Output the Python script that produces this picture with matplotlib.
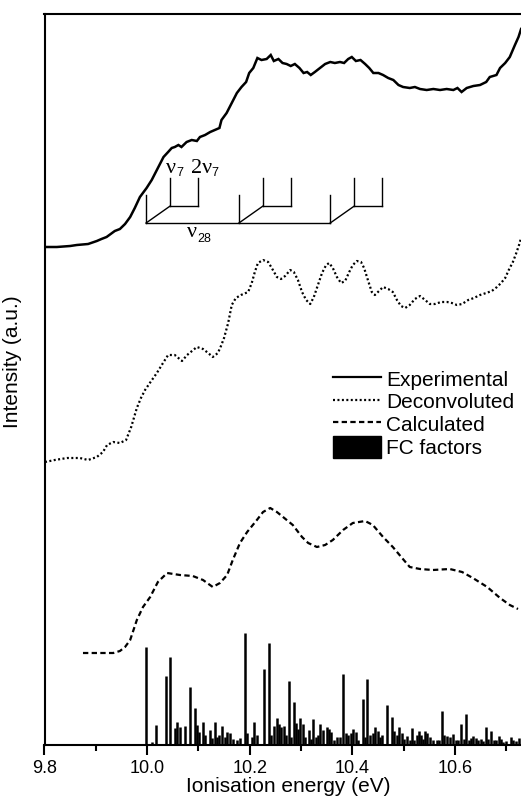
import matplotlib
matplotlib.use("Agg")
import matplotlib.pyplot as plt
from matplotlib.lines import Line2D
from matplotlib.patches import Patch
from matplotlib.ticker import MultipleLocator

plt.rcParams['font.family'] = ['Liberation Sans', 'DejaVu Sans']

# ---------------- data (energy in eV, intensity in arbitrary units) ----------------
exp_energy = [9.801, 9.824, 9.850, 9.863, 9.885, 9.902, 9.911, 9.921, 9.937, 9.947,
              9.957, 9.967, 9.976, 9.986, 9.999, 10.009, 10.019, 10.032, 10.041, 10.048,
              10.054, 10.061, 10.067, 10.077, 10.087, 10.097, 10.103, 10.113, 10.123, 10.132,
              10.141, 10.145, 10.155, 10.165, 10.175, 10.184, 10.193, 10.199, 10.207, 10.215,
              10.223, 10.233, 10.241, 10.247, 10.256, 10.264, 10.272, 10.280, 10.288, 10.297,
              10.305, 10.312, 10.319, 10.327, 10.337, 10.347, 10.357, 10.366, 10.376, 10.384,
              10.392, 10.399, 10.407, 10.416, 10.425, 10.433, 10.441, 10.451, 10.460, 10.470,
              10.480, 10.490, 10.499, 10.512, 10.522, 10.532, 10.545, 10.558, 10.571, 10.584,
              10.597, 10.605, 10.613, 10.623, 10.636, 10.649, 10.661, 10.668, 10.681, 10.688,
              10.698, 10.707, 10.717, 10.724, 10.729]
exp_intensity = [498, 498, 499, 500, 501, 504, 506, 508, 514, 516,
                 521, 528, 537, 548, 557, 565, 575, 588, 593, 597,
                 598, 600, 598, 603, 605, 604, 608, 610, 613, 615,
                 617, 625, 632, 642, 652, 658, 663, 672, 677, 687,
                 685, 686, 690, 684, 686, 682, 681, 679, 681, 677,
                 672, 673, 670, 673, 677, 681, 683, 682, 683, 682,
                 686, 688, 684, 685, 681, 677, 672, 672, 670, 667,
                 665, 660, 658, 657, 658, 656, 655, 656, 655, 656,
                 655, 657, 653, 657, 659, 660, 663, 668, 670, 677,
                 682, 688, 700, 708, 716]

deconv_energy = [9.801, 9.820, 9.844, 9.869, 9.885, 9.902, 9.914, 9.922, 9.934, 9.947,
                 9.959, 9.969, 9.980, 9.988, 9.996, 10.008, 10.019, 10.031, 10.041, 10.054,
                 10.068, 10.078, 10.097, 10.109, 10.119, 10.128, 10.138, 10.144, 10.150, 10.158,
                 10.165, 10.173, 10.183, 10.197, 10.204, 10.210, 10.216, 10.226, 10.236, 10.243,
                 10.253, 10.261, 10.269, 10.279, 10.286, 10.294, 10.302, 10.310, 10.318, 10.325,
                 10.333, 10.341, 10.349, 10.355, 10.362, 10.370, 10.378, 10.386, 10.394, 10.401,
                 10.409, 10.417, 10.423, 10.431, 10.438, 10.444, 10.452, 10.460, 10.470, 10.479,
                 10.487, 10.495, 10.503, 10.512, 10.522, 10.532, 10.542, 10.551, 10.561, 10.573,
                 10.585, 10.594, 10.604, 10.614, 10.626, 10.637, 10.649, 10.661, 10.672, 10.682,
                 10.690, 10.698, 10.705, 10.713, 10.719, 10.725, 10.729]
deconv_intensity = [283, 285, 287, 287, 285, 288, 293, 300, 303, 302,
                    305, 318, 337, 347, 355, 364, 372, 382, 390, 390,
                    384, 390, 398, 396, 392, 388, 392, 399, 407, 422,
                    440, 447, 450, 453, 462, 473, 482, 485, 483, 477,
                    468, 466, 469, 475, 473, 465, 453, 445, 441, 448,
                    460, 472, 480, 482, 477, 468, 462, 464, 473, 480,
                    484, 483, 477, 464, 453, 450, 454, 458, 456, 453,
                    445, 439, 437, 440, 446, 449, 445, 441, 441, 443,
                    443, 442, 440, 441, 445, 447, 450, 452, 454, 458,
                    462, 467, 475, 483, 491, 500, 507]

calc_energy = [9.875, 9.908, 9.934, 9.947, 9.957, 9.967, 9.980, 9.992, 10.006, 10.021,
               10.039, 10.064, 10.089, 10.109, 10.128, 10.142, 10.156, 10.167, 10.181, 10.195,
               10.214, 10.226, 10.240, 10.253, 10.265, 10.284, 10.302, 10.314, 10.331, 10.347,
               10.362, 10.382, 10.401, 10.425, 10.440, 10.460, 10.479, 10.497, 10.512, 10.532,
               10.557, 10.590, 10.614, 10.635, 10.663, 10.688, 10.707, 10.723]
calc_intensity = [92, 92, 92, 94, 98, 105, 125, 138, 148, 163,
                  172, 170, 169, 165, 158, 162, 170, 185, 202, 213,
                  225, 233, 237, 233, 228, 220, 208, 202, 198, 200,
                  205, 215, 222, 224, 220, 208, 198, 187, 178, 176,
                  175, 176, 173, 167, 158, 147, 140, 136]

fc_energy = [9.997, 10.009, 10.017, 10.036, 10.045, 10.054, 10.059, 10.065, 10.074, 10.084,
             10.093, 10.098, 10.102, 10.108, 10.113, 10.122, 10.127, 10.132, 10.137, 10.141,
             10.146, 10.151, 10.156, 10.162, 10.167, 10.175, 10.181, 10.190, 10.195, 10.204,
             10.209, 10.214, 10.228, 10.238, 10.242, 10.247, 10.253, 10.257, 10.261, 10.266,
             10.271, 10.276, 10.281, 10.286, 10.290, 10.295, 10.299, 10.303, 10.308, 10.315,
             10.319, 10.324, 10.329, 10.334, 10.338, 10.343, 10.350, 10.355, 10.358, 10.364,
             10.371, 10.376, 10.382, 10.388, 10.392, 10.397, 10.402, 10.407, 10.412, 10.420,
             10.425, 10.429, 10.435, 10.440, 10.444, 10.450, 10.454, 10.458, 10.468, 10.478,
             10.482, 10.487, 10.492, 10.496, 10.501, 10.507, 10.512, 10.516, 10.521, 10.526,
             10.530, 10.534, 10.538, 10.542, 10.546, 10.551, 10.558, 10.565, 10.569, 10.574,
             10.579, 10.585, 10.590, 10.596, 10.602, 10.607, 10.612, 10.617, 10.622, 10.627,
             10.631, 10.636, 10.641, 10.646, 10.651, 10.655, 10.661, 10.665, 10.670, 10.676,
             10.680, 10.685, 10.690, 10.694, 10.699, 10.709, 10.714, 10.719, 10.724]
fc_factor = [98, 3, 20, 69, 88, 17, 23, 18, 19, 58,
             37, 20, 13, 23, 10, 15, 7, 23, 8, 10,
             19, 8, 13, 12, 6, 5, 7, 112, 12, 8,
             23, 10, 76, 102, 10, 19, 27, 21, 18, 19,
             10, 64, 8, 43, 22, 16, 27, 21, 8, 15,
             6, 26, 8, 10, 21, 15, 18, 16, 13, 5,
             8, 8, 71, 12, 10, 12, 16, 13, 5, 46,
             8, 66, 10, 12, 18, 14, 8, 10, 40, 28,
             14, 10, 18, 12, 6, 9, 5, 17, 5, 10,
             14, 10, 6, 14, 12, 8, 5, 5, 5, 34,
             10, 9, 8, 11, 5, 5, 21, 6, 31, 5,
             7, 9, 7, 5, 6, 4, 18, 6, 14, 5,
             5, 9, 6, 3, 4, 8, 5, 4, 7]

# vibrational progression annotation (eV)
nu28_origins = [9.998, 10.179, 10.357]
nu7_offsets = [0.047, 0.101]

x_ticks = [9.8, 10.0, 10.2, 10.4, 10.6]
x_ticklabels = ['9.8', '10.0', '10.2', '10.4', '10.6']

# ---------------- figure ----------------
W, H = 521, 802
fig = plt.figure(figsize=(W / 100, H / 100), dpi=100)
ax = fig.add_axes([44.5 / W, 1 - 745 / H, 487 / W, 731 / H])

lw = 1.6
ax.plot(exp_energy, exp_intensity, color='black', lw=1.8, solid_joinstyle='miter')
ax.plot(deconv_energy, deconv_intensity, color='black', lw=lw, linestyle=(0, (0.9, 1.1)))
ax.plot(calc_energy, calc_intensity, color='black', lw=lw, linestyle=(0, (2.4, 1.5)))
ax.vlines(fc_energy, 0, fc_factor, color='black', lw=1.8)

# progression ladder
ladder_lw = 1.0
base_h, top_h = 522, 550
lvl2_h, lvl2_top = 539, 567
ax.plot([nu28_origins[0], nu28_origins[-1]], [base_h, base_h], color='black', lw=ladder_lw)
for o in nu28_origins:
    ax.plot([o, o], [base_h, top_h], color='black', lw=ladder_lw)
    x1 = o + nu7_offsets[0]
    x2 = o + nu7_offsets[1]
    ax.plot([o, x1], [base_h, lvl2_h], color='black', lw=ladder_lw)
    ax.plot([x1, x2], [lvl2_h, lvl2_h], color='black', lw=ladder_lw)
    ax.plot([x1, x1], [lvl2_h, lvl2_top], color='black', lw=ladder_lw)
    ax.plot([x2, x2], [lvl2_h, lvl2_top], color='black', lw=ladder_lw)

serif = ['Liberation Serif', 'DejaVu Serif']
ax.text(10.047, 572, 'ν', family=serif, fontsize=16, ha='center', va='baseline')
ax.text(10.057, 569, '7', fontsize=9, ha='left', va='baseline')
ax.text(10.085, 572, '2ν', family=serif, fontsize=16, ha='left', va='baseline')
ax.text(10.125, 569, '7', fontsize=9, ha='left', va='baseline')
ax.text(10.087, 508, 'ν', family=serif, fontsize=16, ha='center', va='baseline')
ax.text(10.098, 503, '28', fontsize=9, ha='left', va='baseline')

ax.set_xlim(9.8, 9.8 + 487 / 513)
ax.set_ylim(0, 731)
ax.set_xticks(x_ticks)
ax.set_xticklabels(x_ticklabels)
ax.xaxis.set_minor_locator(MultipleLocator(0.1))
ax.tick_params(axis='x', which='major', direction='out', length=7, width=1.5,
               labelsize=13, pad=4)
ax.tick_params(axis='x', which='minor', direction='out', length=4.3, width=1.5)
ax.set_yticks([])
for s in ['left', 'top', 'bottom']:
    ax.spines[s].set_linewidth(1.5)
ax.spines['right'].set_visible(False)

ax.set_xlabel('Ionisation energy (eV)', fontsize=15, labelpad=0)
ax.set_ylabel('Intensity (a.u.)', fontsize=15)
ax.yaxis.set_label_coords(-22 / 487, (745 - 362) / 731)

handles = [
    Line2D([], [], color='black', lw=lw),
    Line2D([], [], color='black', lw=lw, linestyle=(0, (0.9, 1.1))),
    Line2D([], [], color='black', lw=lw, linestyle=(0, (2.4, 1.5))),
    Patch(facecolor='black', edgecolor='black'),
]
labels = ['Experimental', 'Deconvoluted', 'Calculated', 'FC factors']
fig.legend(handles, labels, loc='upper left', bbox_to_anchor=(333 / W, 1 - 368 / H),
           bbox_transform=fig.transFigure, frameon=False, fontsize=15,
           handlelength=2.3, handleheight=1.2, handletextpad=0.25,
           labelspacing=0.05, borderpad=0, borderaxespad=0)

fig.savefig('out.png', dpi=100)
